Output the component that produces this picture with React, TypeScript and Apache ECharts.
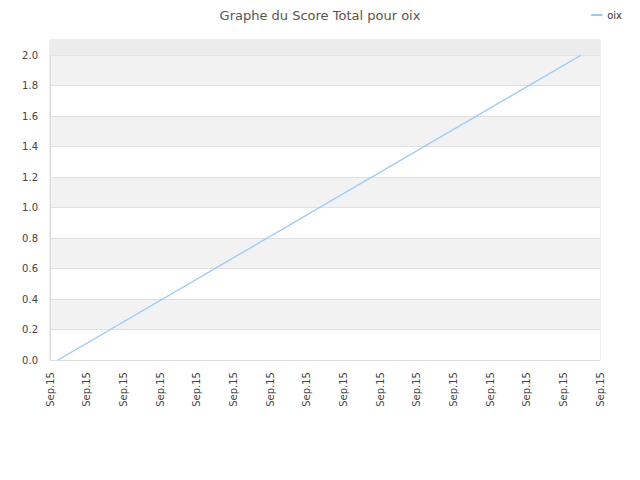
import React, { useEffect, useRef } from "react";
import * as echarts from "echarts";

const titleText = "Graphe du Score Total pour oix";
const seriesName = "oix";
const tickLabels = [
  "Sep.15", "Sep.15", "Sep.15", "Sep.15", "Sep.15", "Sep.15", "Sep.15", "Sep.15",
  "Sep.15", "Sep.15", "Sep.15", "Sep.15", "Sep.15", "Sep.15", "Sep.15", "Sep.15",
];
const xPositions = [0.22, 14.48];
const scores = [0, 2];

export default function App() {
  const ref = useRef<HTMLDivElement>(null);
  useEffect(() => {
    if (!ref.current) return;
    const chart = echarts.init(ref.current, null, { renderer: "svg" });
    const font = "DejaVu Sans";
    chart.setOption({
      animation: false,
      backgroundColor: "#ffffff",
      title: {
        text: titleText,
        left: "center",
        top: 4,
        textStyle: { fontFamily: font, fontSize: 13, fontWeight: "normal", color: "#555555" },
      },
      legend: {
        right: 13,
        top: 5,
        itemWidth: 11,
        itemHeight: 2,
        itemGap: 6,
        icon: "rect",
        textStyle: { fontFamily: font, fontSize: 10, color: "#333333" },
        data: [seriesName],
      },
      grid: {
        left: 50,
        right: 40,
        top: 40,
        bottom: 120,
        show: true,
        borderColor: "#dddddd",
        borderWidth: 1,
        backgroundColor: "transparent",
      },
      xAxis: {
        type: "value",
        min: 0,
        max: tickLabels.length - 1,
        interval: 1,
        axisLine: { show: true, lineStyle: { color: "#dddddd" } },
        axisTick: { show: false },
        splitLine: { show: false },
        axisLabel: {
          rotate: 90,
          margin: 12,
          fontFamily: font,
          fontSize: 10,
          color: "#444444",
          formatter: (v: number) => tickLabels[Math.round(v)] ?? "",
        },
      },
      yAxis: {
        type: "value",
        min: 0,
        max: 2.1,
        interval: 0.2,
        axisLine: { show: true, lineStyle: { color: "#dddddd" } },
        axisTick: { show: false },
        axisLabel: {
          showMaxLabel: false,
          margin: 12,
          fontFamily: font,
          fontSize: 10,
          color: "#444444",
          formatter: (v: number) => v.toFixed(1),
        },
        splitLine: { show: true, lineStyle: { color: "#e0e0e0" } },
        splitArea: { show: true, areaStyle: { color: ["#ffffff", "#f2f2f2"] } },
      },
      series: [
        {
          name: seriesName,
          type: "line",
          data: xPositions.map((x, i) => [x, scores[i]]),
          showSymbol: false,
          symbol: "none",
          lineStyle: { color: "#99c8f8", width: 1.3 },
          itemStyle: { color: "#99c8f8" },
          markArea: {
            silent: true,
            itemStyle: { color: "#ececec" },
            data: [[{ yAxis: 2.0 }, { yAxis: 2.1 }]],
          },
        },
      ],
    });
    return () => chart.dispose();
  }, []);
  return <div ref={ref} style={{ width: 640, height: 480, margin: -8 }} />;
}
